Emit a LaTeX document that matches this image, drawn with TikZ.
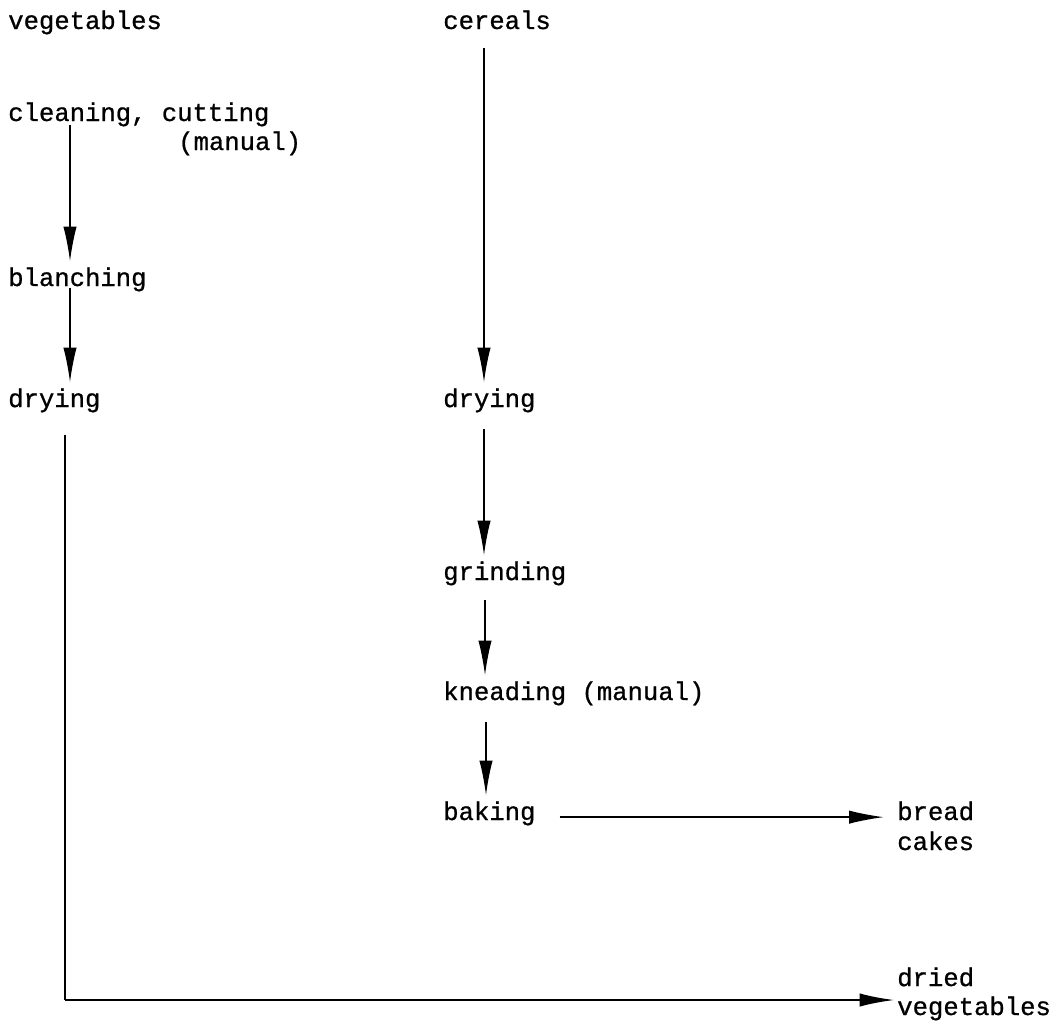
\documentclass[tikz,border=0pt]{standalone}
\usepackage{fontspec}
\newfontfamily\typewr{Liberation Mono}[BoldFont={Liberation Mono}, BoldFeatures={FakeBold=0.8}]
\usetikzlibrary{arrows.meta}

\tikzset{
  lbl/.style={anchor=base west, inner sep=0pt, font=\typewr\bfseries\fontsize{19.2}{23}\selectfont},
  flow/.style={line width=1pt, -{Latex[length=26pt, width=10pt]}},
}

\begin{document}
\begin{tikzpicture}[x=0.75pt, y=-0.75pt]
\useasboundingbox (0,0) rectangle (1059,1032);
% vegetables column
\node[lbl] (veg) at (8,29) {vegetables};
\node[lbl] (clean) at (8,121) {cleaning, cutting};
\node[lbl] (cleanman) at (178,150) {(manual)};
\node[lbl] (blanch) at (8,286) {blanching};
\node[lbl] (dryveg) at (8,407) {drying};
% cereals column
\node[lbl] (cer) at (443,29) {cereals};
\node[lbl] (drycer) at (443,407) {drying};
\node[lbl] (grind) at (443,580) {grinding};
\node[lbl] (knead) at (443,700) {kneading (manual)};
\node[lbl] (bake) at (443,820) {baking};
% products
\node[lbl] (bread) at (897,820) {bread};
\node[lbl] (cakes) at (897,850) {cakes};
\node[lbl] (dried) at (897,986) {dried};
\node[lbl] (dveg) at (897,1015) {vegetables};
\coordinate (corner) at (65,1000);
% arrows
\draw[flow] ([shift={(62,-2)}]clean.south west) -- ([shift={(62,-6)}]blanch.north west);
\draw[flow] ([shift={(62,-4)}]blanch.south west) -- ([shift={(62,-6)}]dryveg.north west);
\draw[line width=1pt] ([shift={(57,22)}]dryveg.south west) -- (corner);
\draw[flow, line width=1.6pt] (corner) -- ([xshift=-2pt]corner -| dveg.west);
\draw[flow] ([shift={(41,18)}]cer.south west) -- ([shift={(41,-6)}]drycer.north west);
\draw[flow] ([shift={(41,16)}]drycer.south west) -- ([shift={(41,-6)}]grind.north west);
\draw[flow] ([shift={(42,14)}]grind.south west) -- ([shift={(42,-6)}]knead.north west);
\draw[flow] ([shift={(43,16)}]knead.south west) -- ([shift={(43,-6)}]bake.north west);
\draw[flow] ([xshift=18pt]bake.mid east) -- ([xshift=-10pt]bake.mid east -| bread.west);
\end{tikzpicture}
\end{document}
